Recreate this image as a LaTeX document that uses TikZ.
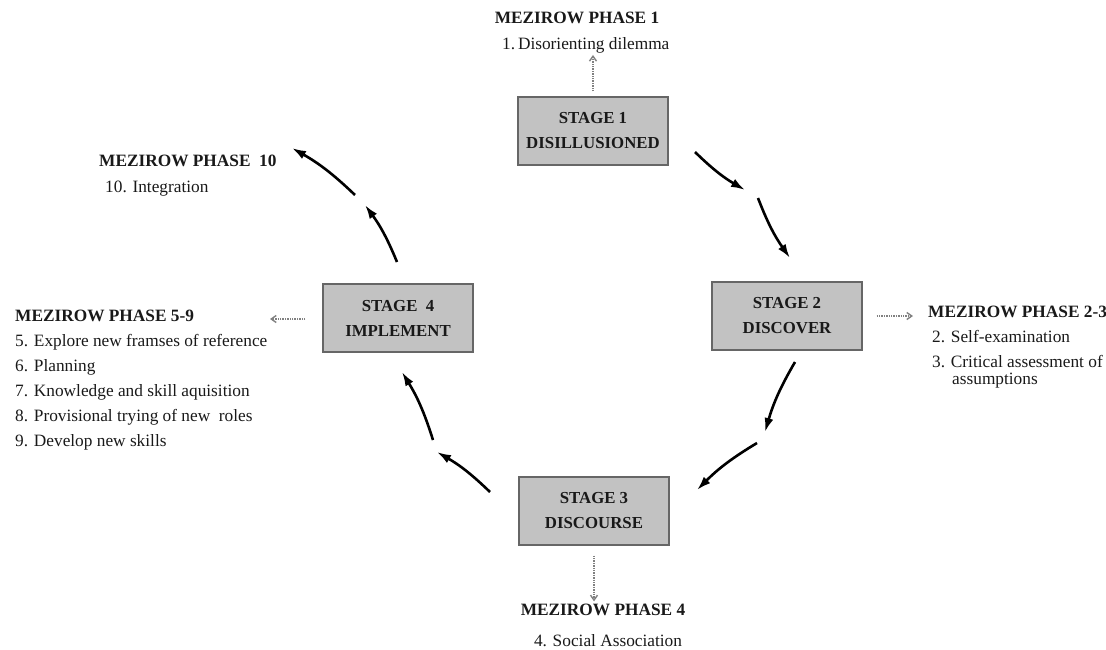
\documentclass[tikz,border=0pt]{standalone}
\usepackage{fontspec}
\setmainfont{Liberation Serif}
\usetikzlibrary{arrows.meta}

\begin{document}
\fontsize{17.3}{25}\selectfont
\begin{tikzpicture}
	[
		x = 1pt, y = -1pt,
		stagebox/.style = {shape=rectangle, draw=black!60, line width=1.2pt, fill=black!24, minimum width=150pt, minimum height=68pt, align=center, font=\fontsize{16.8}{25}\selectfont\bfseries, text=black!90},
		txt/.style = {anchor=base west, align=left, inner sep=2pt, text=black!90},
		head/.style = {txt, font=\bfseries},
		cyclearrow/.style = {line width=2.6pt, -{Latex[length=14pt, width=9pt]}},
		dotarrow/.style = {densely dotted, black!50, line width=1.4pt, -{Straight Barb[length=5pt, width=7pt]}}
	]
	
	\useasboundingbox (0, 0) rectangle (1106, 649);
	
	\newcommand{\stage}[4]{\node [stagebox] (#1) at (#2, #3) {#4}; }
	
	\stage{stage1}{593}{131}{STAGE 1\\DISILLUSIONED}
	\stage{stage2}{787}{316}{STAGE 2\\DISCOVER}
	\stage{stage3}{594}{511}{STAGE 3\\DISCOURSE}
	\stage{stage4}{398}{318}{STAGE\ \ 4\\IMPLEMENT}
	
	\node [head, anchor=base] (p1head) at (577, 23) {MEZIROW PHASE 1};
	\node [txt] (p1item) at (500, 49) {1.\,Disorienting dilemma};
	
	\node [head] (p23head) at (926, 317) {MEZIROW PHASE 2-3};
	\node [txt] (p23item) at (930, 384) {2. Self-examination\\3. Critical assessment of\\[-8pt]\hspace{20pt}assumptions};
	
	\node [head, anchor=base] (p4head) at (603, 615) {MEZIROW PHASE 4};
	\node [txt, anchor=base] (p4item) at (608, 646) {4. Social Association};
	
	\node [head] (p59head) at (13, 321) {MEZIROW PHASE 5-9};
	\node [txt] (p59item) at (13, 446) {5. Explore new framses of reference\\6. Planning\\7. Knowledge and skill aquisition\\8. Provisional trying of new\ \ roles\\9. Develop new skills};
	
	\node [head] (p10head) at (97, 166) {MEZIROW PHASE\ \ 10};
	\node [txt] (p10item) at (103, 192) {10. Integration};
	
	\coordinate (to4) at (270, 319);
	
	\draw [dotarrow] (stage1.north) ++(0, -5) -- (stage1.north |- p1item.south);
	\draw [dotarrow, shorten <=14pt, shorten >=13pt] (stage2.east) -- (stage2.east -| p23head.west);
	\draw [dotarrow] (stage3.south) ++(0, 10) -- (stage3.south |- p4head.north);
	\draw [dotarrow, shorten <=17pt] (stage4.west |- to4) -- (to4);
	
	\foreach \xa/\ya/\xb/\yb in {695/152/745/190, 758/198/790/258, 795/362/765/432, 757/443/697/490, 490/492/437/452, 433/440/402/372, 397/262/365/205, 355/195/292/148}
		{ \draw [cyclearrow] (\xa, \ya) to [bend right=7] (\xb, \yb); }
\end{tikzpicture}
\end{document}
